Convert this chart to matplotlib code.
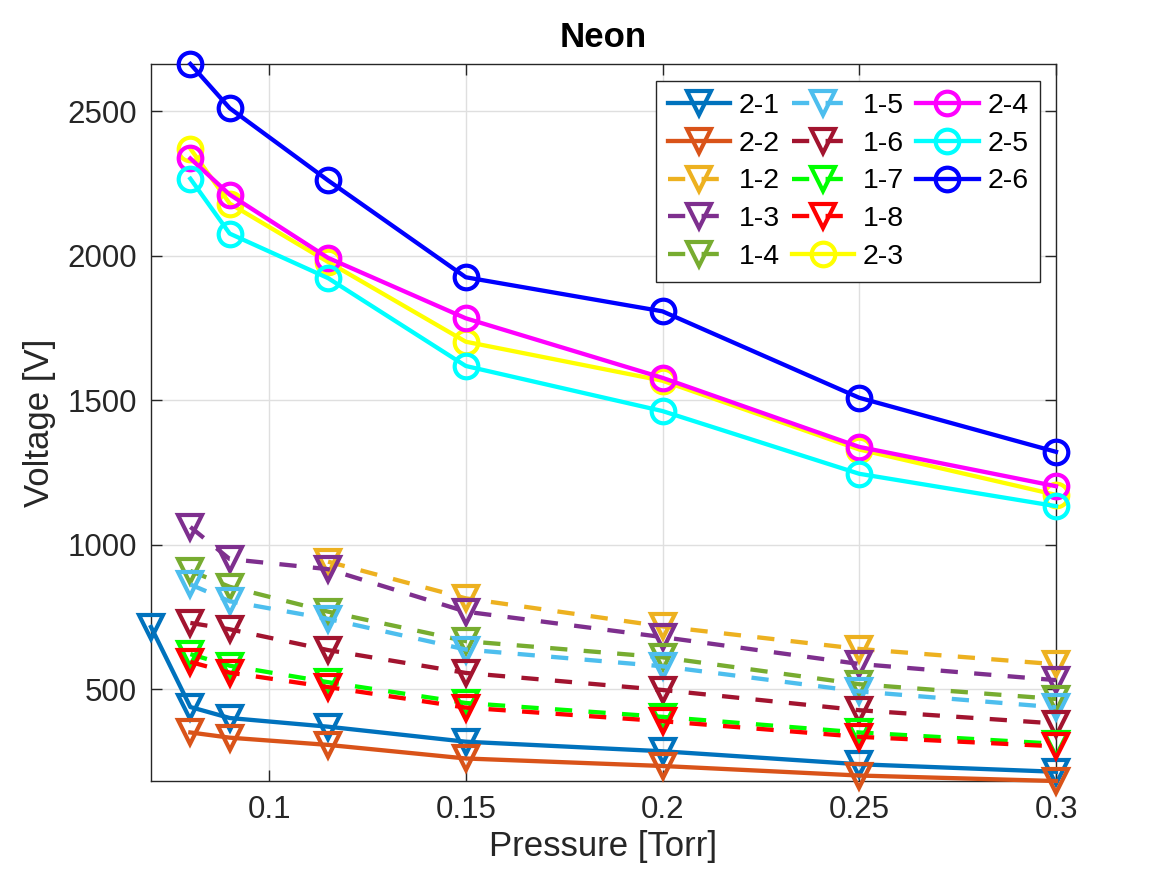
import numpy as np
import matplotlib
matplotlib.use("Agg")
import matplotlib.pyplot as plt
from matplotlib.lines import Line2D

plt.rcParams['font.family'] = ['Liberation Sans', 'DejaVu Sans']

# pressures [Torr]
p_main = [0.08, 0.09, 0.115, 0.15, 0.2, 0.25, 0.3]
p_21 = [0.07, 0.08, 0.09, 0.115, 0.15, 0.2, 0.25, 0.3]
p_12 = [0.115, 0.15, 0.2, 0.25, 0.3]

# breakdown voltages [V]
v_21 = [715, 438, 400, 370, 318, 285, 240, 214]
v_22 = [350, 332, 307, 260, 234, 201, 182]
v_12 = [941, 814, 717, 639, 586]
v_13 = [1061, 950, 915, 768, 680, 587, 531]
v_14 = [909, 854, 768, 666, 610, 517, 466]
v_15 = [862, 804, 743, 637, 579, 492, 437]
v_16 = [729, 707, 635, 556, 497, 427, 381]
v_17 = [621, 581, 524, 452, 404, 350, 311]
v_18 = [594, 557, 507, 436, 389, 335, 302]
v_23 = [2370, 2180, 1978, 1702, 1567, 1329, 1172]
v_24 = [2336, 2211, 1992, 1783, 1577, 1338, 1202]
v_25 = [2266, 2076, 1922, 1618, 1462, 1245, 1133]
v_26 = [2663, 2510, 2260, 1925, 1807, 1508, 1321]

series = [
    ("2-1", p_21, v_21, "#0072BD", "-", "v"),
    ("2-2", p_main, v_22, "#D95319", "-", "v"),
    ("1-2", p_12, v_12, "#EDB120", "--", "v"),
    ("1-3", p_main, v_13, "#7E2F8E", "--", "v"),
    ("1-4", p_main, v_14, "#77AC30", "--", "v"),
    ("1-5", p_main, v_15, "#4DBEEE", "--", "v"),
    ("1-6", p_main, v_16, "#A2142F", "--", "v"),
    ("1-7", p_main, v_17, "#00FF00", "--", "v"),
    ("1-8", p_main, v_18, "#FF0000", "--", "v"),
    ("2-3", p_main, v_23, "#FFFF00", "-", "o"),
    ("2-4", p_main, v_24, "#FF00FF", "-", "o"),
    ("2-5", p_main, v_25, "#00FFFF", "-", "o"),
    ("2-6", p_main, v_26, "#0000FF", "-", "o"),
]

fig = plt.figure(figsize=(11.67, 8.75), dpi=100)
ax = fig.add_axes([0.1294, 0.1074, 0.7755, 0.8195])

handles = []
for name, p, v, c, ls, m in series:
    line, = ax.plot(p, v, ls, color=c, marker=m, markersize=17,
                    markerfacecolor='none', markeredgewidth=3,
                    linewidth=3.1, label=name, clip_on=False, zorder=3)
    if ls == "--":
        line.set_dashes((4.0, 3.8))
    handles.append(line)

# two blank slots so the legend columns come out 5/5/3 like MATLAB
blank = Line2D([], [], linestyle='none', marker='none')
handles += [blank, blank]
labels = [s[0] for s in series] + ['', '']

all_v = np.concatenate([np.array(s[2]) for s in series])
ax.set_xlim(0.07, 0.3)
ax.set_ylim(all_v.min(), all_v.max())
ax.set_xticks([0.1, 0.15, 0.2, 0.25, 0.3])
ax.set_xticklabels(["0.1", "0.15", "0.2", "0.25", "0.3"])
ax.set_yticks([500, 1000, 1500, 2000, 2500])

ax.grid(True, color='#dfdfdf', linewidth=1)
ax.set_axisbelow(True)
ax.tick_params(direction='in', top=True, right=True, length=8, width=1,
               labelsize=22.5, colors='#262626', pad=10)
for s in ax.spines.values():
    s.set_color('#262626')
    s.set_linewidth(1)

ax.set_xlabel("Pressure [Torr]", fontsize=25, color='#262626', labelpad=4)
ax.set_ylabel("Voltage [V]", fontsize=25, color='#262626', labelpad=8)
ax.set_title("Neon", fontsize=25, fontweight='bold', pad=12)

leg = ax.legend(handles, labels, ncol=3, loc='upper right',
                bbox_to_anchor=(0.982, 0.976), borderaxespad=0, fontsize=20.5,
                handlelength=2.2, handletextpad=0.3, columnspacing=0.42,
                labelspacing=0.42, fancybox=False, framealpha=1,
                edgecolor='#262626', borderpad=0.4)
leg.get_frame().set_linewidth(1)
leg.set_zorder(5)

fig.savefig("out.png", dpi=100)
